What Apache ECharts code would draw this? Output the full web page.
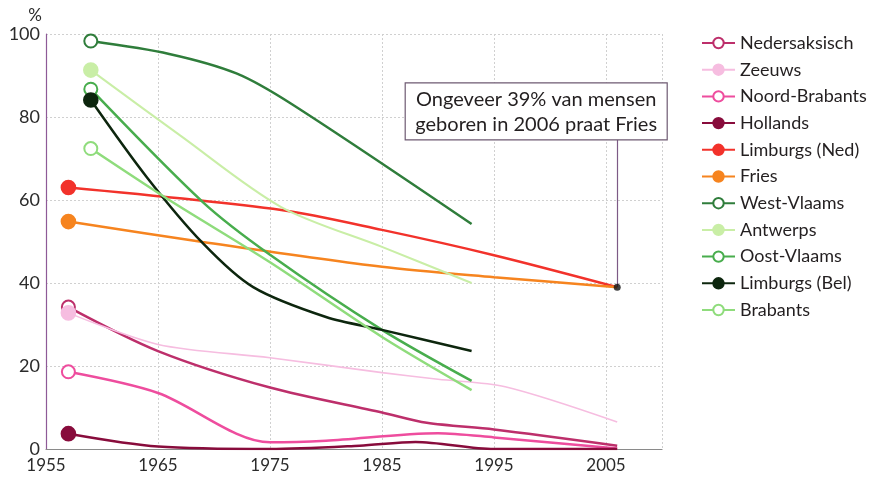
<!DOCTYPE html>
<html><head><meta charset="utf-8">
<script src="https://cdn.jsdelivr.net/npm/echarts@6/dist/echarts.min.js"></script>
<style>html,body{margin:0;padding:0;background:#fff}#c{width:872px;height:482px}</style>
</head><body><div id="c"></div>
<script>
// ---- data (year, percentage) ----
const nedersaksisch = [[1957,34.2],[1965,23.6],[1975,14.8],[1985,8.8],[1989,6.3],[1995,4.7],[2006,0.8]];
const zeeuws        = [[1957,32.8],[1965,25.2],[1975,22.0],[1985,18.4],[1990,16.8],[1996,15.0],[2006,6.5]];
const noordBrabants = [[1957,18.6],[1965,13.5],[1975,1.6],[1980,2.0],[1990,3.8],[1995,2.8],[2006,0.1]];
const hollands      = [[1957,3.7],[1965,0.6],[1975,0.0],[1983,0.8],[1988,1.7],[1995,0.0],[2006,0.0]];
const limburgsNed   = [[1957,63.0],[1976,57.6],[1985,52.8],[1995,46.7],[2006,39.0]];
const fries         = [[1957,54.8],[1969,49.9],[1985,43.9],[1995,41.4],[2006,39.0]];
const westVlaams    = [[1959,98.3],[1966,95.2],[1972,90.5],[1977,83.0],[1993,54.2]];
const antwerps      = [[1959,91.3],[1967,75.5],[1976,58.3],[1985,48.7],[1993,40.0]];
const oostVlaams    = [[1959,86.7],[1969,59.5],[1975,46.8],[1985,28.7],[1993,16.4]];
const limburgsBel   = [[1959,84.1],[1964,65.5],[1969,49.6],[1973.5,39.0],[1980,31.8],[1985,28.7],[1993,23.6]];
const brabants      = [[1959,72.4],[1966,60.0],[1975,45.0],[1985,27.0],[1993,14.2]];

const names = ['Nedersaksisch','Zeeuws','Noord-Brabants','Hollands','Limburgs (Ned)','Fries','West-Vlaams','Antwerps','Oost-Vlaams','Limburgs (Bel)','Brabants'];
const seriesData = [nedersaksisch, zeeuws, noordBrabants, hollands, limburgsNed, fries, westVlaams, antwerps, oostVlaams, limburgsBel, brabants];
const colors = ['#bd2f6b','#f6bde0','#ee4d9e','#880c3c','#f2322b','#f6841f','#2f7d3b','#c9eea6','#48ad4d','#0d260e','#8fdc7c'];
const symbols = ['emptyCircle','circle','emptyCircle','circle','circle','circle','emptyCircle','circle','emptyCircle','circle','emptyCircle'];
const widths = [2.5,1.6,2.5,2.5,2.5,2.5,2.5,2,2.5,2.5,2.5];

const xStartYear = 1955, xEndYear = 2010;
const annotationPoint = [2006, 39];
const annotationTop = 74.5;
const annotationLines = ['Ongeveer 39% van mensen', 'geboren in 2006 praat Fries'];

const FONT = 'Lato';
const chart = echarts.init(document.getElementById('c'));

const series = seriesData.map((d, i) => ({
  name: names[i], type: 'line', xAxisIndex: 0, yAxisIndex: 0,
  smooth: 0.3, symbol: symbols[i], symbolSize: 13, showSymbol: true,
  color: colors[i],
  lineStyle: { width: widths[i], color: colors[i] },
  itemStyle: { color: colors[i], borderColor: colors[i], borderWidth: 2.6 },
  emphasis: { disabled: true },
  z: 3 + i,
  data: d.map((p, j) => j === 0 ? { value: p } : { value: p, symbol: 'none' })
}));

series.push({
  name: 'annot', type: 'scatter', xAxisIndex: 0, yAxisIndex: 0,
  symbolSize: 7, itemStyle: { color: '#111' }, z: 20,
  data: [annotationPoint],
  markLine: {
    silent: true, symbol: 'none', label: { show: false },
    lineStyle: { color: '#7d5a86', width: 1.2, type: 'solid' },
    data: [[{ coord: annotationPoint }, { coord: [annotationPoint[0], annotationTop] }]]
  }
});

chart.setOption({
  animation: false,
  backgroundColor: '#fff',
  textStyle: { fontFamily: FONT },
  grid: { left: 46, right: 210, top: 34, bottom: 33, containLabel: false },
  legend: {
    data: names, orient: 'vertical', left: 696, top: 29,
    itemWidth: 33, itemHeight: 13, itemGap: 8.7,
    textStyle: { fontFamily: FONT, fontSize: 18, color: '#231f20', padding: [0,0,0,0] },
    selectedMode: false
  },
  xAxis: [
    { type: 'value', min: xStartYear, max: xEndYear, show: false },
    { type: 'value', min: 0, max: xEndYear - xStartYear, interval: 10, position: 'bottom',
      axisLine: { show: true, onZero: false, lineStyle: { color: '#8a8a8a', width: 1.2 } },
      axisTick: { show: false },
      axisLabel: { fontFamily: FONT, fontSize: 17, color: '#2b2b2b', margin: 8,
        formatter: v => (v % 10 === 0 && v < 55) ? String(xStartYear + v) : '' },
      splitLine: { show: true, lineStyle: { color: '#d0d0d0', type: [2, 2], width: 1 } }
    }
  ],
  yAxis: {
    type: 'value', min: 0, max: 100, interval: 20,
    name: '%', nameLocation: 'end', nameGap: 10,
    nameTextStyle: { fontFamily: FONT, fontSize: 17, color: '#2b2b2b', align: 'right', padding: [0, 4, 0, 0] },
    axisLine: { show: true, lineStyle: { color: '#8e5a97', width: 1.2 } },
    axisTick: { show: false },
    axisLabel: { fontFamily: FONT, fontSize: 18, color: '#2b2b2b', margin: 6 },
    splitLine: { show: true, lineStyle: { color: '#d0d0d0', type: [2, 2], width: 1 } }
  },
  series: series
});

const annTopPx = chart.convertToPixel({ xAxisIndex: 0, yAxisIndex: 0 }, [annotationPoint[0], annotationTop]);
const boxW = 262, boxH = 57;
const bx = annTopPx[0] - 212, by = annTopPx[1] - boxH;
chart.setOption({
  graphic: [
    { type: 'rect', shape: { x: bx, y: by, width: boxW, height: boxH },
      style: { fill: '#fff', stroke: '#6e5a72', lineWidth: 1.2 }, z: 50 },
    { type: 'text', x: bx + boxW / 2, y: by + boxH / 2 + 1, z: 51,
      style: { text: annotationLines.join('\n'), fontFamily: FONT, fontSize: 20, lineHeight: 25,
        fill: '#231f20', align: 'center', verticalAlign: 'middle' } }
  ]
});
</script>
</body></html>
